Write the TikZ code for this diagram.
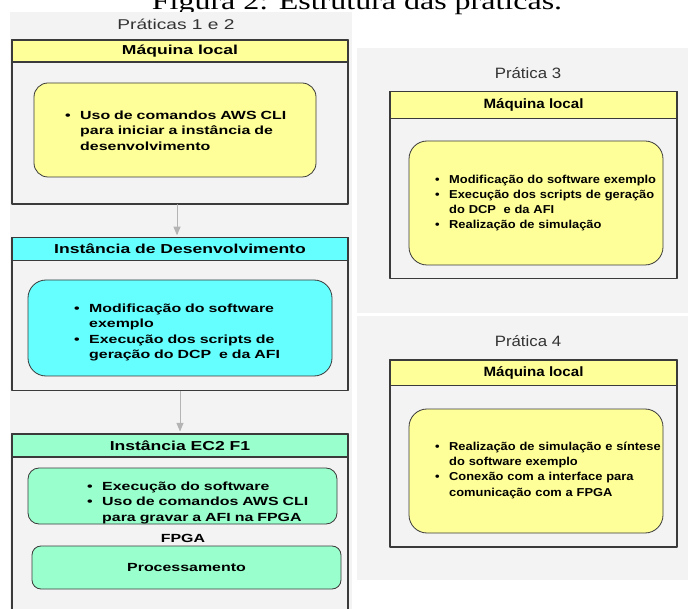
\documentclass[tikz,border=0pt]{standalone}
\usepackage{fontspec}
\setmainfont{Liberation Sans}
\newfontfamily\lfont[FakeStretch=1.35]{Liberation Sans}
\newfontfamily\rfont[FakeStretch=1.12]{Liberation Sans}
\newfontfamily\capfont[FakeStretch=1.3]{Liberation Serif}
\usetikzlibrary{arrows}
\definecolor{panelgray}{HTML}{F3F3F3}
\definecolor{edgegray}{HTML}{3A3A3A}
\definecolor{arrowgray}{HTML}{B4B4B4}
\definecolor{titlegray}{HTML}{333333}
\definecolor{localyellow}{HTML}{FFFF99}
\definecolor{devcyan}{HTML}{66FFFF}
\definecolor{fgreen}{HTML}{99FFCC}
\newcommand{\pitem}[2][15pt]{\par\hangindent=#1\hangafter=1\noindent\makebox[#1][l]{\textbullet}#2\par}

\begin{document}
\begin{tikzpicture}[line cap=round,line join=round,>=triangle 45,x=1pt,y=-1pt,
	outerbox/.style={draw=edgegray,fill=panelgray,line width=1.1pt,inner sep=0pt},
	headbar/.style={draw=edgegray,line width=1.1pt,anchor=north,inner sep=0pt},
	itembox/.style={draw=edgegray,line width=0.8pt,inner sep=0pt,rounded corners=14pt},
	ltext/.style={font=\lfont\bfseries\fontsize{11.8}{15.3}\selectfont,inner sep=0pt},
	rtext/.style={font=\rfont\bfseries\fontsize{11.5}{15.2}\selectfont,inner sep=0pt},
	lhead/.style={font=\lfont\bfseries\fontsize{13}{15}\selectfont},
	rhead/.style={font=\rfont\bfseries\fontsize{13.5}{16}\selectfont},
	ptitle/.style={text=titlegray,anchor=base},
	flow/.style={->,draw=arrowgray,line width=1pt,shorten >=2pt}]
	\clip (0,0) rectangle (688,609);
	\node[font=\capfont\fontsize{24.6}{28}\selectfont,anchor=base] (fig) at (357,10) {Figura 2: Estrutura das práticas.};
	% paineis
	\fill[panelgray] (10,12) rectangle (352,640);
	\fill[panelgray] (357,48) rectangle (700,313);
	\fill[panelgray] (357,316) rectangle (700,580);
	\node[ptitle,font=\lfont\fontsize{14.2}{17}\selectfont] (p12) at (176,29.5) {Práticas 1 e 2};
	\node[ptitle,font=\rfont\fontsize{15}{18}\selectfont] (p3) at (528,79) {Prática 3};
	\node[ptitle,font=\rfont\fontsize{15}{18}\selectfont] (p4) at (528,346.5) {Prática 4};
	% praticas 1 e 2
	\node[outerbox,minimum width=336pt,minimum height=164pt] (loc12) at (180,122) {};
	\node[headbar,lhead,fill=localyellow,minimum width=336pt,minimum height=22pt] (loc12h) at (loc12.north) {Máquina local};
	\node[itembox,fill=localyellow,minimum width=282pt,minimum height=94pt] (loc12i) at (175,130) {};
	\node[ltext,anchor=north west,text width=250pt] (loc12t) at (65,104) {\raggedright\pitem{Uso de comandos AWS CLI\newline para iniciar a instância de\newline desenvolvimento}};
	\node[outerbox,minimum width=336pt,minimum height=153pt] (dev) at (180,314.3) {};
	\node[headbar,lhead,fill=devcyan,minimum width=336pt,minimum height=22.3pt] (devh) at (dev.north) {Instância de Desenvolvimento};
	\node[itembox,rounded corners=18pt,fill=devcyan,minimum width=304pt,minimum height=96pt] (devi) at (180,328) {};
	\node[ltext,anchor=north west,text width=250pt] (devt) at (74,297) {\raggedright\pitem{Modificação do software\newline exemplo}\pitem{Execução dos scripts de\newline geração do DCP\ \ e da AFI}};
	\node[outerbox,minimum width=336pt,minimum height=226pt] (ec2) at (180,547) {};
	\node[headbar,lhead,fill=fgreen,minimum width=336pt,minimum height=23pt] (ec2h) at (ec2.north) {Instância EC2 F1};
	\node[itembox,rounded corners=11pt,fill=fgreen,minimum width=309pt,minimum height=56pt] (ec2i) at (182.5,496) {};
	\node[ltext,anchor=north west,text width=250pt] (ec2t) at (87,475) {\raggedright\pitem{Execução do software}\pitem{Uso de comandos AWS CLI\newline para gravar a AFI na FPGA}};
	\node[ltext] (fpga) at (183,538) {FPGA};
	\node[itembox,rounded corners=9pt,fill=fgreen,minimum width=309pt,minimum height=43pt,ltext] (proc) at (186.5,567.5) {Processamento};
	\draw[flow] ([xshift=-3pt]loc12.south) -- ([xshift=-3pt]dev.north);
	\draw[flow] (dev.south) -- (ec2.north);
	% pratica 3
	\node[outerbox,minimum width=287pt,minimum height=187.3pt] (loc3) at (533.5,185.3) {};
	\node[headbar,rhead,fill=localyellow,minimum width=287pt,minimum height=26.5pt] (loc3h) at (loc3.north) {Máquina local};
	\node[itembox,rounded corners=18pt,fill=localyellow,minimum width=254pt,minimum height=124pt] (loc3i) at (536,203) {};
	\node[rtext,anchor=north west,text width=240pt] (loc3t) at (435,168) {\raggedright\pitem[14pt]{Modificação do software exemplo}\pitem[14pt]{Execução dos scripts de geração\newline do DCP\ \ e da AFI}\pitem[14pt]{Realização de simulação}};
	% pratica 4
	\node[outerbox,minimum width=287pt,minimum height=187pt] (loc4) at (533.5,453.5) {};
	\node[headbar,rhead,fill=localyellow,minimum width=287pt,minimum height=25.5pt] (loc4h) at (loc4.north) {Máquina local};
	\node[itembox,rounded corners=18pt,fill=localyellow,minimum width=254pt,minimum height=124pt] (loc4i) at (536,471) {};
	\node[rtext,anchor=north west,text width=240pt] (loc4t) at (435,435) {\raggedright\pitem[14pt]{Realização de simulação e síntese\newline do software exemplo}\pitem[14pt]{Conexão com a interface para\newline comunicação com a FPGA}};
\end{tikzpicture}
\end{document}
